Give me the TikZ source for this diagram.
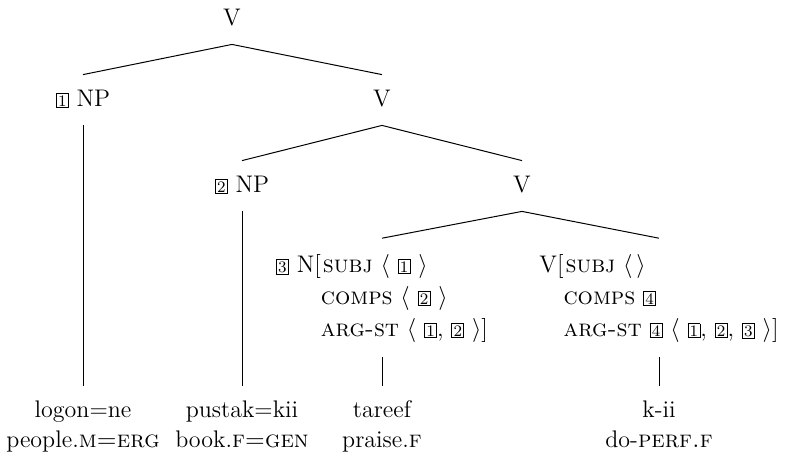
\documentclass[tikz,border=0pt]{standalone}
\usetikzlibrary{positioning}
\newcommand{\tagbox}[1]{{\setlength{\fboxsep}{0.7pt}\fbox{\footnotesize #1}}}

\begin{document}
\begin{tikzpicture}[
  x=0.5pt, y=-0.5pt,
  every node/.style={font=\fontsize{12}{15}\selectfont},
  cat/.style={anchor=base, text height=8pt, text depth=2pt, inner ysep=7.5pt},
  avm/.style={anchor=base, inner ysep=5.5pt},
  gloss/.style={below=15pt of #1, anchor=base},
  branch/.style={line width=0.5pt}
]
\useasboundingbox (0,0) rectangle (788,463);
% phrase nodes
\node[cat] (v1) at (232,25) {V};
\node[cat] (np1) at (83,106) {\tagbox{1} NP};
\node[cat] (v2) at (382,106) {V};
\node[cat] (np2) at (242,192) {\tagbox{2} NP};
\node[cat] (v3) at (522,192) {V};
% feature structures
\node[avm] (nhead) at (382,272) {\renewcommand{\arraystretch}{1.0667}%
  \begin{tabular}[t]{@{}r@{}l@{}}
    \tagbox{3} N[ & \hspace{1pt}\textsc{subj} $\langle$ \tagbox{1} $\rangle$ \\
     & \textsc{comps} $\langle$ \tagbox{2} $\rangle$ \\
     & \textsc{arg-st} $\langle$ \tagbox{1}, \tagbox{2} $\rangle$]
  \end{tabular}};
\node[avm] (vhead) at (659,272) {\renewcommand{\arraystretch}{1.0667}%
  \begin{tabular}[t]{@{}r@{}l@{}}
    V[ & \hspace{1pt}\textsc{subj} $\langle\,\rangle$ \\
     & \textsc{comps} \tagbox{4} \\
     & \textsc{arg-st} \tagbox{4} $\langle$ \tagbox{1}, \tagbox{2}, \tagbox{3} $\rangle$]
  \end{tabular}};
% words and glosses
\node[cat] (w1) at (83,417) {logon=ne};
\node[gloss=w1.base] (g1) {people.\textsc{m=erg}};
\node[cat] (w2) at (242,417) {pustak=kii};
\node[gloss=w2.base] (g2) {book.\textsc{f=gen}};
\node[cat] (w3) at (382,417) {tareef};
\node[gloss=w3.base] (g3) {praise.\textsc{f}};
\node[cat] (w4) at (659,417) {k-ii};
\node[gloss=w4.base] (g4) {do-\textsc{perf.f}};

\draw[branch] (v1.south) -- (np1.north);
\draw[branch] (v1.south) -- (v2.north);
\draw[branch] (v2.south) -- (np2.north);
\draw[branch] (v2.south) -- (v3.north);
\draw[branch] (v3.south) -- (nhead.north);
\draw[branch] (v3.south) -- (vhead.north);
\draw[branch] (np1.south) -- (w1.north);
\draw[branch] (np2.south) -- (w2.north);
\draw[branch] (nhead.south) -- (w3.north);
\draw[branch] (vhead.south) -- (w4.north);
\end{tikzpicture}
\end{document}
